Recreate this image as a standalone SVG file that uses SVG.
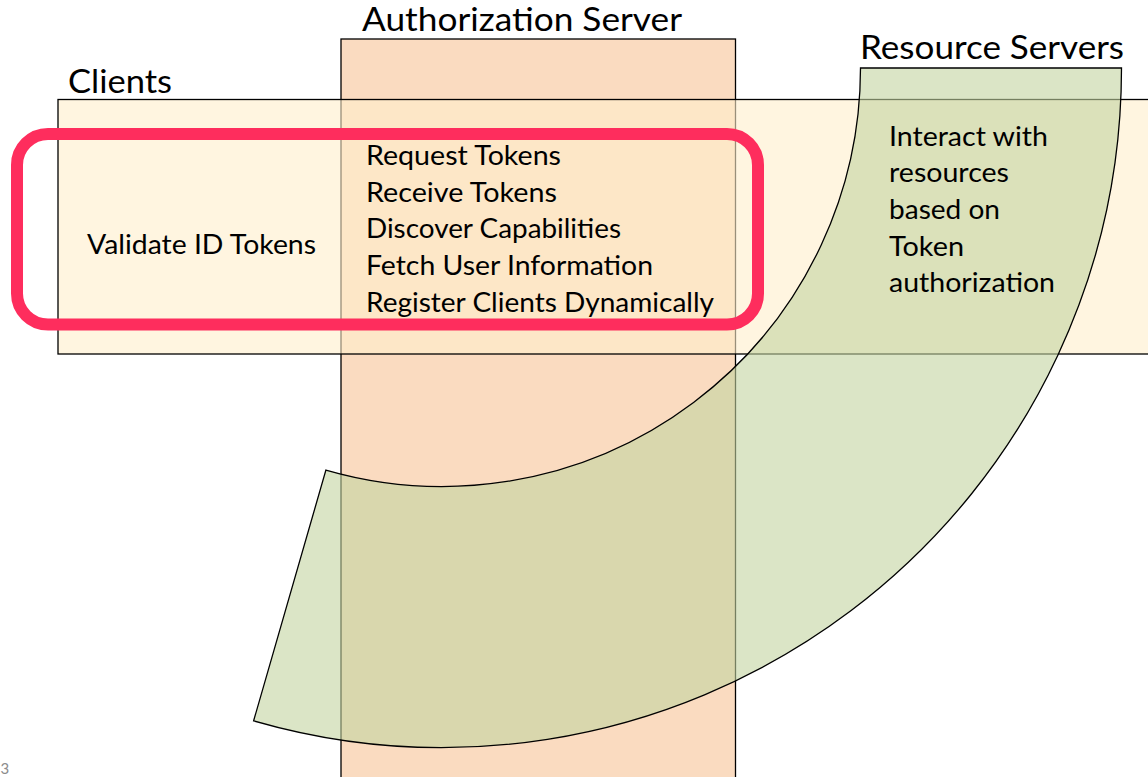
<svg xmlns="http://www.w3.org/2000/svg" width="1148" height="777" viewBox="0 0 1148 777">
<defs>
<style>
.shape{stroke:#000;stroke-width:1.3}
.head{font-family:Lato,"Liberation Sans",sans-serif;font-size:32px;fill:#000}
.body{font-family:Lato,"Liberation Sans",sans-serif;font-size:27px;fill:#000}
</style>
</defs>
<rect width="1148" height="777" fill="#fff"/>
<g id="auth-server">
<rect class="shape" x="341" y="39" width="394.5" height="760" fill="#FADBC0"/>
<text class="head" x="362" y="31" textLength="320" lengthAdjust="spacingAndGlyphs">Authorization Server</text>
</g>
<g id="clients">
<rect class="shape" x="58" y="99.5" width="1110" height="254.5" fill="#FFEECB" fill-opacity="0.6"/>
<text class="head" x="68" y="92.5" textLength="104" lengthAdjust="spacingAndGlyphs">Clients</text>
</g>
<g id="resource-servers">
<path class="shape" d="M 860.5 68 L 1121.5 68 A 679.5 679.5 0 0 1 253.6 720.9 L 325.9 470.1 A 418.5 418.5 0 0 0 860.5 68 Z" fill="#C3D4A0" fill-opacity="0.6"/>
<text class="head" x="860" y="59" textLength="264" lengthAdjust="spacingAndGlyphs">Resource Servers</text>
</g>
<g id="highlight">
<rect x="17" y="134" width="741" height="190.5" rx="31" ry="31" fill="none" stroke="#FE2D5D" stroke-width="12"/>
</g>
<g id="client-text">
<text class="body" x="87" y="254" textLength="229" lengthAdjust="spacingAndGlyphs">Validate ID Tokens</text>
</g>
<g id="auth-text">
<text class="body" x="366" y="165" textLength="195" lengthAdjust="spacingAndGlyphs">Request Tokens</text>
<text class="body" x="366" y="201.7" textLength="191" lengthAdjust="spacingAndGlyphs">Receive Tokens</text>
<text class="body" x="366" y="238.3" textLength="255" lengthAdjust="spacingAndGlyphs">Discover Capabilities</text>
<text class="body" x="366" y="275" textLength="287" lengthAdjust="spacingAndGlyphs">Fetch User Information</text>
<text class="body" x="366" y="311.7" textLength="348" lengthAdjust="spacingAndGlyphs">Register Clients Dynamically</text>
</g>
<g id="resource-text">
<text class="body" x="889" y="145.7" textLength="159" lengthAdjust="spacingAndGlyphs">Interact with</text>
<text class="body" x="889" y="181.7" textLength="120" lengthAdjust="spacingAndGlyphs">resources</text>
<text class="body" x="889" y="219" textLength="111" lengthAdjust="spacingAndGlyphs">based on</text>
<text class="body" x="889" y="255.7" textLength="75" lengthAdjust="spacingAndGlyphs">Token</text>
<text class="body" x="889" y="291.7" textLength="166" lengthAdjust="spacingAndGlyphs">authorization</text>
</g>
<g id="connectors"></g>
<text x="0.5" y="774" font-family="Lato,'Liberation Sans',sans-serif" font-size="15" fill="#8C8C8C">3</text>
</svg>
